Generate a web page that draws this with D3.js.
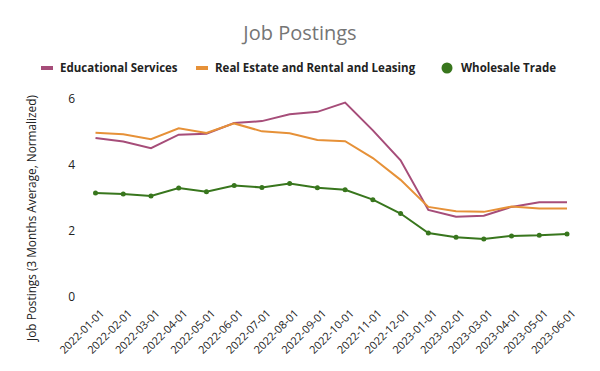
<!DOCTYPE html>
<html>
<head>
<meta charset="utf-8">
<script src="https://cdn.jsdelivr.net/npm/d3@7"></script>
<style>
  body { margin: 0; background: #fff; }
  svg { font-family: "Comic Sans MS", "Open Sans", sans-serif; }
</style>
</head>
<body>
<svg width="600" height="371"></svg>
<script>
var months = ["2022-01-01","2022-02-01","2022-03-01","2022-04-01","2022-05-01","2022-06-01",
              "2022-07-01","2022-08-01","2022-09-01","2022-10-01","2022-11-01","2022-12-01",
              "2023-01-01","2023-02-01","2023-03-01","2023-04-01","2023-05-01","2023-06-01"];
var educational = [4.82,4.71,4.51,4.92,4.95,5.27,5.33,5.54,5.61,5.89,5.05,4.14,
                   2.64,2.43,2.46,2.73,2.87,2.87];
var realEstate = [4.98,4.93,4.78,5.11,4.97,5.26,5.02,4.96,4.76,4.72,4.21,3.55,
                  2.73,2.60,2.58,2.74,2.68,2.68];
var wholesale = [3.15,3.12,3.06,3.30,3.19,3.38,3.32,3.44,3.31,3.25,2.95,2.53,
                 1.94,1.81,1.76,1.85,1.87,1.91];
var yTicks = [0,2,4,6];

var series = [
  {name: "Educational Services", values: educational, color: "#a64d79", marker: "bar"},
  {name: "Real Estate and Rental and Leasing", values: realEstate, color: "#e69138", marker: "bar"},
  {name: "Wholesale Trade", values: wholesale, color: "#38761d", marker: "dot"}
];

var svg = d3.select("svg");

var x = d3.scalePoint()
          .domain(months)
          .range([95.5, 567]);
var y = d3.scaleLinear()
          .domain([0, 6])
          .range([297, 99]);

// title
svg.append("text")
   .attr("x", 300)
   .attr("y", 40)
   .attr("text-anchor", "middle")
   .attr("font-size", 20)
   .attr("fill", "#757575")
   .text("Job Postings");

// legend
var legendX = [41, 196, 441];
var legend = svg.selectAll(".legend")
                .data(series)
                .enter()
                .append("g")
                .attr("class", "legend")
                .attr("transform", function(d, i){
                  return "translate(" + legendX[i] + ",68)";
                });
legend.each(function(d){
  var g = d3.select(this);
  if (d.marker == "bar") {
    g.append("rect").attr("x", 0).attr("y", -2).attr("width", 12).attr("height", 4)
     .attr("fill", d.color);
  } else {
    g.append("circle").attr("cx", 6).attr("cy", 0).attr("r", 5.5).attr("fill", d.color);
  }
});
legend.append("text")
      .attr("x", function(d){ return d.marker == "bar" ? 19 : 20; })
      .attr("y", 4)
      .attr("font-size", 11.5)
      .attr("font-weight", "bold")
      .attr("fill", "#222")
      .text(function(d){ return d.name; });

// y axis
var yAxis = d3.axisLeft(y).tickValues(yTicks).tickFormat(d3.format("d")).tickSize(0).tickPadding(0);
var gy = svg.append("g")
            .attr("transform", "translate(75,0)")
            .call(yAxis);
gy.select(".domain").remove();
gy.selectAll("text")
  .attr("font-size", 12)
  .attr("font-family", "\"Comic Sans MS\", \"Open Sans\", sans-serif")
  .attr("fill", "#222");

// x axis
var xAxis = d3.axisBottom(x).tickSize(0).tickPadding(0);
var gx = svg.append("g")
            .attr("transform", "translate(0,308)")
            .call(xAxis);
gx.select(".domain").remove();
gx.selectAll("text")
  .attr("font-size", 11)
  .attr("font-family", "\"Comic Sans MS\", \"Open Sans\", sans-serif")
  .attr("fill", "#222")
  .attr("text-anchor", "end")
  .attr("dy", null)
  .attr("y", 0)
  .attr("transform", "translate(9,6) rotate(-45)");

// y axis title
svg.append("text")
   .attr("transform", "translate(36,218) rotate(-90)")
   .attr("text-anchor", "middle")
   .attr("font-size", 11.8)
   .attr("fill", "#222")
   .text("Job Postings (3 Months Average, Normalized)");

// lines
var line = d3.line()
             .x(function(d, i){ return x(months[i]); })
             .y(function(d){ return y(d); });

svg.selectAll(".series")
   .data(series)
   .enter()
   .append("path")
   .attr("class", "series")
   .attr("fill", "none")
   .attr("stroke", function(d){ return d.color; })
   .attr("stroke-width", 2)
   .attr("d", function(d){ return line(d.values); });

svg.selectAll(".dot")
   .data(wholesale)
   .enter()
   .append("circle")
   .attr("class", "dot")
   .attr("cx", function(d, i){ return x(months[i]); })
   .attr("cy", function(d){ return y(d); })
   .attr("r", 2.5)
   .attr("fill", "#38761d");
</script>
</body>
</html>
